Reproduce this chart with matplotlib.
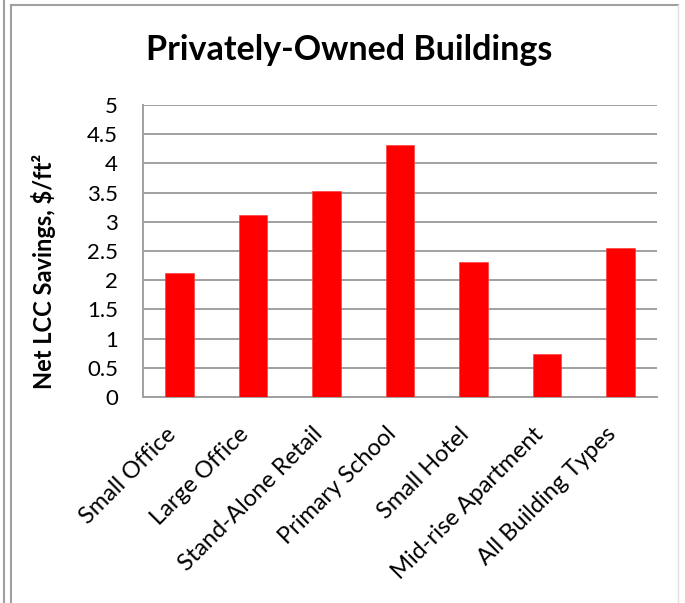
import matplotlib
matplotlib.use("Agg")
import matplotlib.pyplot as plt
from matplotlib.lines import Line2D

# chart data
buildings = ['Small Office', 'Large Office', 'Stand-Alone Retail', 'Primary School',
             'Small Hotel', 'Mid-rise Apartment', 'All Building Types']
savings = [2.12, 3.12, 3.53, 4.31, 2.32, 0.73, 2.55]
yticks = [0, 0.5, 1, 1.5, 2, 2.5, 3, 3.5, 4, 4.5, 5]
ytick_labels = ['0', '0.5', '1', '1.5', '2', '2.5', '3', '3.5', '4', '4.5', '5']

plt.rcParams['font.family'] = ['Lato', 'DejaVu Sans']

W, H = 685, 603
fig = plt.figure(figsize=(W / 100, H / 100), dpi=100)

ax = fig.add_axes([143 / W, 1 - 397 / H, 514 / W, 292 / H])
x = list(range(len(buildings)))
ax.bar(x, savings, width=0.39, color='#ff0000', edgecolor='#ff4040', linewidth=0.5, zorder=3)

ax.set_xlim(-0.5, len(buildings) - 0.5)
ax.set_ylim(0, 5)
ax.set_yticks(yticks)
ax.set_yticklabels(ytick_labels, fontsize=16)
ax.set_xticks(x)
ax.set_xticklabels(buildings, rotation=45, ha='right', fontsize=17)
ax.tick_params(axis='y', length=0, pad=18)
ax.tick_params(axis='x', length=0, pad=19)

ax.grid(axis='y', color='#a0a0a0', linewidth=1.4, zorder=0)
for s in ['top', 'right']:
    ax.spines[s].set_visible(False)
for s in ['left', 'bottom']:
    ax.spines[s].set_color('#a0a0a0')
    ax.spines[s].set_linewidth(1.4)

fig.text(349 / W, 1 - 50 / H, 'Privately-Owned Buildings', fontsize=24.5,
         fontweight='bold', ha='center', va='center')
fig.text(44 / W, 1 - 271 / H, r'Net LCC Savings, \$/ft²', fontsize=17,
         fontweight='bold', rotation=90, ha='center', va='center')

# frame lines around the chart
frame = '#a0a0a0'
fig.add_artist(Line2D([3.5 / W, 3.5 / W], [0, 1], color=frame, lw=1.5, transform=fig.transFigure))
fig.add_artist(Line2D([10.5 / W, 10.5 / W], [0, 1 - 5 / H], color=frame, lw=1.5, transform=fig.transFigure))
fig.add_artist(Line2D([10.5 / W, 678 / W], [1 - 5 / H, 1 - 5 / H], color=frame, lw=1.5, transform=fig.transFigure))
fig.add_artist(Line2D([678 / W, 678 / W], [0, 1 - 5 / H], color='#e0e0e0', lw=1, transform=fig.transFigure))

fig.savefig('out.png', dpi=100)
